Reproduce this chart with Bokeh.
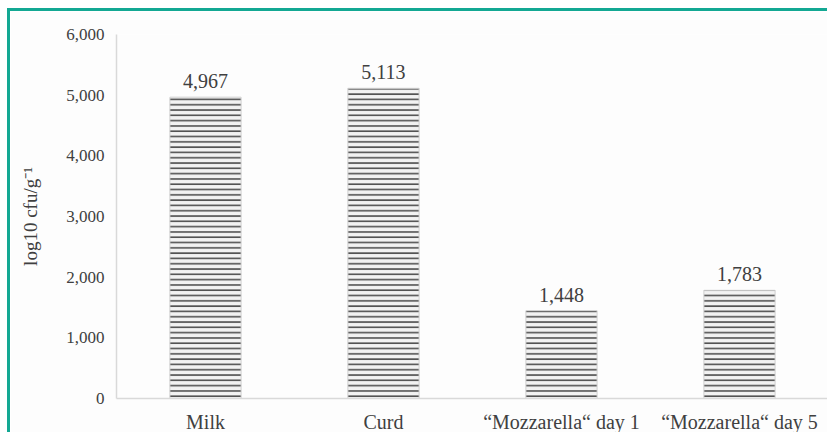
from bokeh.plotting import figure
from bokeh.models import ColumnDataSource, NumeralTickFormatter, FixedTicker, LabelSet
from bokeh.embed import file_html
from bokeh.resources import INLINE

categories = ["Milk", "Curd", "\u201cMozzarella\u201c day 1", "\u201cMozzarella\u201c day 5"]
values = [4967, 5113, 1448, 1783]
labels = ["4,967", "5,113", "1,448", "1,783"]
y_ticks = [0, 1000, 2000, 3000, 4000, 5000, 6000]

src = ColumnDataSource(dict(cat=categories, val=values, lab=labels))

FONT = "Liberation Serif"
TXT = "#404040"

p = figure(x_range=categories, y_range=(0, 6000), width=820, height=424,
           output_backend="svg", toolbar_location=None,
           min_border_left=106, min_border_right=2, min_border_top=23, min_border_bottom=26,
           background_fill_color="#fdfdfd", border_fill_color="#fdfdfd",
           styles={"border-left": "3px solid #13a893", "border-top": "3px solid #13a893",
                   "position": "relative", "top": "8px", "left": "7px"})
p.outline_line_color = None
p.grid.grid_line_color = None

p.vbar(x="cat", top="val", width=0.4, source=src,
       fill_color="#f2f2f2", line_color="#d0d0d0", line_width=1,
       hatch_pattern="horizontal_line", hatch_color="#505050",
       hatch_scale=5.3, hatch_weight=1.6)

lbl = LabelSet(x="cat", y="val", text="lab", source=src, text_align="center",
               text_baseline="bottom", y_offset=9, text_font=FONT,
               text_font_size="20px", text_color=TXT)
p.add_layout(lbl)

p.yaxis.ticker = FixedTicker(ticks=y_ticks)
p.yaxis.formatter = NumeralTickFormatter(format="0,0")
p.yaxis.axis_label = "log10 cfu/g\u207b\u00b9"
p.yaxis.axis_label_text_font = FONT
p.yaxis.axis_label_text_font_style = "normal"
p.yaxis.axis_label_text_font_size = "19px"
p.yaxis.axis_label_text_color = TXT
p.yaxis.axis_label_standoff = 22

for ax in (p.xaxis, p.yaxis):
    ax.axis_line_color = "#d9d9d9"
    ax.axis_line_width = 1.5
    ax.major_tick_line_color = None
    ax.minor_tick_line_color = None
    ax.major_label_text_font = FONT
    ax.major_label_text_color = TXT

p.yaxis.major_label_text_font_size = "17px"
p.yaxis.major_label_standoff = 6
p.xaxis.major_label_text_font_size = "20px"
p.xaxis.major_label_standoff = 6

open("out.html", "w").write(file_html(p, INLINE))
